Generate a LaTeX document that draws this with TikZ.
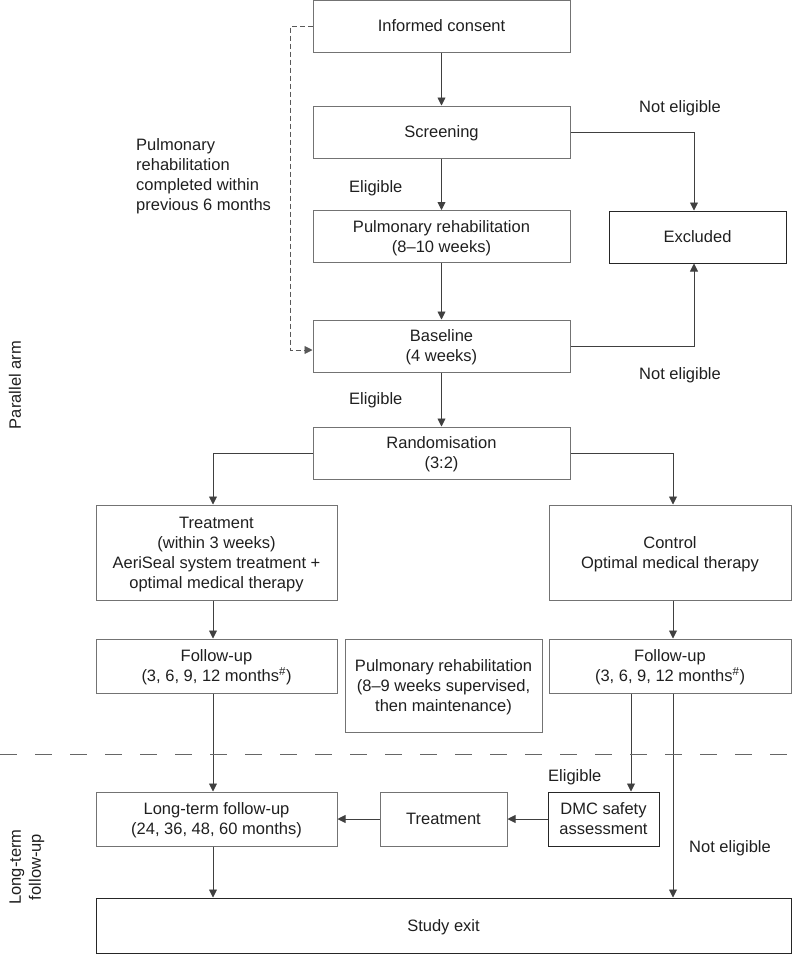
\documentclass[tikz,border=0pt]{standalone}
\usepackage{fontspec}
\setmainfont{Liberation Sans}
\usetikzlibrary{arrows.meta}

\begin{document}
\begin{tikzpicture}[x=1pt,y=-1pt,
    font=\fontsize{16.5}{20}\selectfont,
    every node/.style={text=black!88},
    box/.style 2 args={draw=black!55,line width=1pt,inner sep=0pt,align=center,
        text depth=-2pt,minimum width=#1,minimum height=#2},
    darkbox/.style 2 args={box={#1}{#2},draw=black!85},
    flow/.style={draw=black!75,line width=0.9pt,-{Triangle[length=8pt,width=8pt]}},
    dashline/.style={flow,draw=black!65,dash pattern=on 5pt off 3pt},
    sepline/.style={draw=black!60,line width=0.9pt,dash pattern=on 17pt off 18pt},
    lbl/.style={anchor=west,inner sep=0pt}
]
\useasboundingbox (0,0) rectangle (798,954);

\node[box={257}{52}] (consent) at (441.5,26) {Informed consent};
\node[box={257}{52}] (screen) at (441.5,132) {Screening};
\node[box={257}{52}] (prehab) at (441.5,236.5) {Pulmonary rehabilitation\\(8–10 weeks)};
\node[box={257}{52}] (base) at (441.5,346) {Baseline\\(4 weeks)};
\node[box={257}{52}] (rand) at (441.5,453) {Randomisation\\(3:2)};
\node[darkbox={177}{52}] (excl) at (697.5,237) {Excluded};

\node[box={241}{95}] (treat) at (216.5,552.5) {Treatment\\(within 3 weeks)\\AeriSeal system treatment +\\optimal medical therapy};
\node[box={242}{95}] (ctrl) at (670,552.5) {Control\\Optimal medical therapy};
\node[box={241}{54}] (fuL) at (216.5,666) {Follow-up\\(3, 6, 9, 12 months\textsuperscript{\#})};
\node[box={197}{93}] (rehab) at (443.5,685.5) {Pulmonary rehabilitation\\(8–9 weeks supervised,\\then maintenance)};
\node[box={242}{54}] (fuR) at (670,666) {Follow-up\\(3, 6, 9, 12 months\textsuperscript{\#})};

\node[box={241}{54}] (ltfu) at (216.5,819) {Long-term follow-up\\(24, 36, 48, 60 months)};
\node[box={127}{54}] (treat2) at (443.5,819) {Treatment};
\node[darkbox={111}{54}] (dmc) at (603.5,819) {DMC safety\\assessment};
\node[darkbox={695}{55}] (exit) at (443.5,925.5) {Study exit};

\node[lbl] (ne1) at (639,108) {Not eligible};
\node[lbl] (ne2) at (639,375) {Not eligible};
\node[lbl] (el1) at (349,188) {Eligible};
\node[lbl] (el2) at (349,400) {Eligible};
\node[lbl] (el3) at (548,777) {Eligible};
\node[lbl] (ne3) at (689,848) {Not eligible};
\node[lbl,align=left] (prev) at (136,176) {Pulmonary\\rehabilitation\\completed within\\previous 6 months};
\node[rotate=90] (parm) at (15,385) {Parallel arm};
\node[rotate=90,align=center] (lterm) at (27,867) {Long-term\\follow-up};

\coordinate (lx) at (213,0);
\coordinate (rx) at (673,0);
\coordinate (mx) at (631,0);
\coordinate (ex) at (694,0);
\coordinate (dx) at (290,0);

\draw[flow] (consent) -- (screen);
\draw[flow] (screen) -- (prehab);
\draw[flow] (prehab) -- (base);
\draw[flow] (base) -- (rand);
\draw[flow] (screen.east) -| (excl.north -| ex);
\draw[flow] (base.east) -| (excl.south -| ex);
\draw[dashline] (consent.west) -- (consent.west -| dx) |- ([yshift=-4pt]base.west);

\draw[flow] (rand.west) -| (treat.north -| lx);
\draw[flow] (rand.east) -| (ctrl.north -| rx);
\draw[flow] (treat.south -| lx) -- (fuL.north -| lx);
\draw[flow] (ctrl.south -| rx) -- (fuR.north -| rx);
\draw[flow] (fuL.south -| lx) -- (ltfu.north -| lx);
\draw[flow] (ltfu.south -| lx) -- (exit.north -| lx);
\draw[flow] (fuR.south -| mx) -- (dmc.north -| mx);
\draw[flow] (fuR.south -| rx) -- (exit.north -| rx);
\draw[flow] (dmc) -- (treat2);
\draw[flow] (treat2) -- (ltfu);

\draw[sepline] (0,754) -- (798,754);
\end{tikzpicture}
\end{document}
